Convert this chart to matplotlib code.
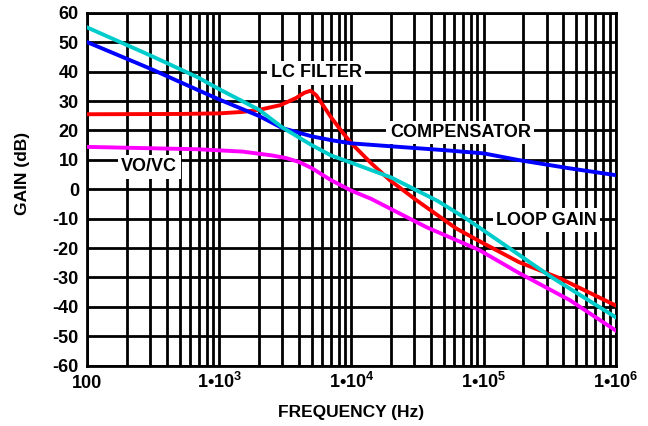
import matplotlib

matplotlib.use("Agg")
import matplotlib.pyplot as plt
from matplotlib.ticker import FixedLocator, LogLocator, NullFormatter

plt.rcParams["font.family"] = ["Liberation Sans", "DejaVu Sans"]
plt.rcParams["font.weight"] = "bold"
plt.rcParams["axes.unicode_minus"] = False
plt.rcParams["mathtext.fontset"] = "custom"
plt.rcParams["mathtext.rm"] = "Liberation Sans:bold"
plt.rcParams["mathtext.bf"] = "Liberation Sans:bold"
plt.rcParams["mathtext.it"] = "Liberation Sans:bold"

# gain curves (frequency in Hz, gain in dB)
loop_f = [100, 300, 690, 1000, 2000, 3000, 5000, 7000, 10000, 20000, 45000, 74000, 100000, 330000, 1000000]
loop_db = [55.0, 45.5, 38.0, 34.0, 27.0, 21.0, 15.0, 11.5, 9.0, 4.0, -4.0, -10.0, -14.0, -30.0, -43.5]

lc_f = [100, 500, 1000, 1500, 2000, 2900, 3800, 4400, 4900, 5400, 6000, 7000, 8500, 10000, 14000, 19500, 31000,
        62000, 100000, 186000, 380000, 1000000]
lc_db = [25.5, 25.6, 25.8, 26.3, 27.0, 28.6, 31.0, 32.8, 33.5, 32.0, 29.0, 24.5, 19.5, 15.6, 9.0, 3.1, -3.7,
         -13.3, -18.4, -24.8, -30.3, -39.5]

comp_f = [100, 300, 690, 1000, 2000, 3000, 5000, 7000, 10000, 20000, 50000, 100000, 186000, 450000, 1000000]
comp_db = [50.0, 41.0, 33.7, 30.5, 24.9, 20.8, 18.0, 16.7, 15.6, 14.6, 13.3, 12.2, 9.9, 7.1, 4.8]

vovc_f = [100, 690, 1500, 2500, 3200, 4000, 5000, 7000, 10000, 14000, 37000, 93000, 186000, 450000, 1000000]
vovc_db = [14.4, 13.6, 12.8, 11.5, 10.6, 9.3, 7.2, 3.1, -0.5, -3.2, -12.9, -20.7, -28.5, -37.7, -48.0]

labels = [("LC FILTER", 5430, 39.6), ("COMPENSATOR", 66800, 19.3),
          ("VO/VC", 294, 7.6), ("LOOP GAIN", 299000, -10.5)]

fig = plt.figure(figsize=(6.48, 4.26), dpi=100)
ax = fig.add_axes([0.1347, 0.1415, 0.8153, 0.8285])

ax.set_xscale("log")
ax.set_xlim(100, 1e6)
ax.set_ylim(-60, 60)
ax.yaxis.set_major_locator(FixedLocator(range(-60, 61, 10)))
ax.xaxis.set_major_locator(FixedLocator([100, 1e3, 1e4, 1e5, 1e6]))
ax.xaxis.set_minor_locator(LogLocator(base=10, subs=range(2, 10)))
ax.xaxis.set_minor_formatter(NullFormatter())
ax.set_xticklabels(["100", r"1•10$^{3}$", r"1•10$^{4}$", r"1•10$^{5}$", r"1•10$^{6}$"],
                   va="baseline", fontsize=13, fontweight="bold")
ax.grid(True, which="both", color="black", linewidth=2.0)
ax.tick_params(axis="x", which="both", length=0, pad=16)
ax.tick_params(axis="y", length=0, labelsize=13, pad=6)
for lab in ax.get_yticklabels():
    lab.set_fontweight("bold")
for s in ax.spines.values():
    s.set_linewidth(2.0)

ax.plot(vovc_f, vovc_db, color="#ff00ff", lw=2.8, zorder=3)
ax.plot(lc_f, lc_db, color="#ff0000", lw=2.8, zorder=3)
ax.plot(comp_f, comp_db, color="#0000ff", lw=2.8, zorder=3)
ax.plot(loop_f, loop_db, color="#00cccc", lw=2.8, zorder=4)

for txt, fx, gy in labels:
    ax.text(fx, gy, txt, ha="center", va="center", fontsize=13, fontweight="bold", zorder=5,
            bbox=dict(facecolor="white", edgecolor="none", pad=2.5))

ax.set_xlabel("FREQUENCY (Hz)", fontsize=12.5, fontweight="bold", va="center")
ax.set_ylabel("GAIN (dB)", fontsize=12.5, fontweight="bold", va="center")
ax.xaxis.set_label_coords(0.499, -0.133)
ax.yaxis.set_label_coords(-0.1226, 0.5445)

fig.savefig("out.png", dpi=100)
